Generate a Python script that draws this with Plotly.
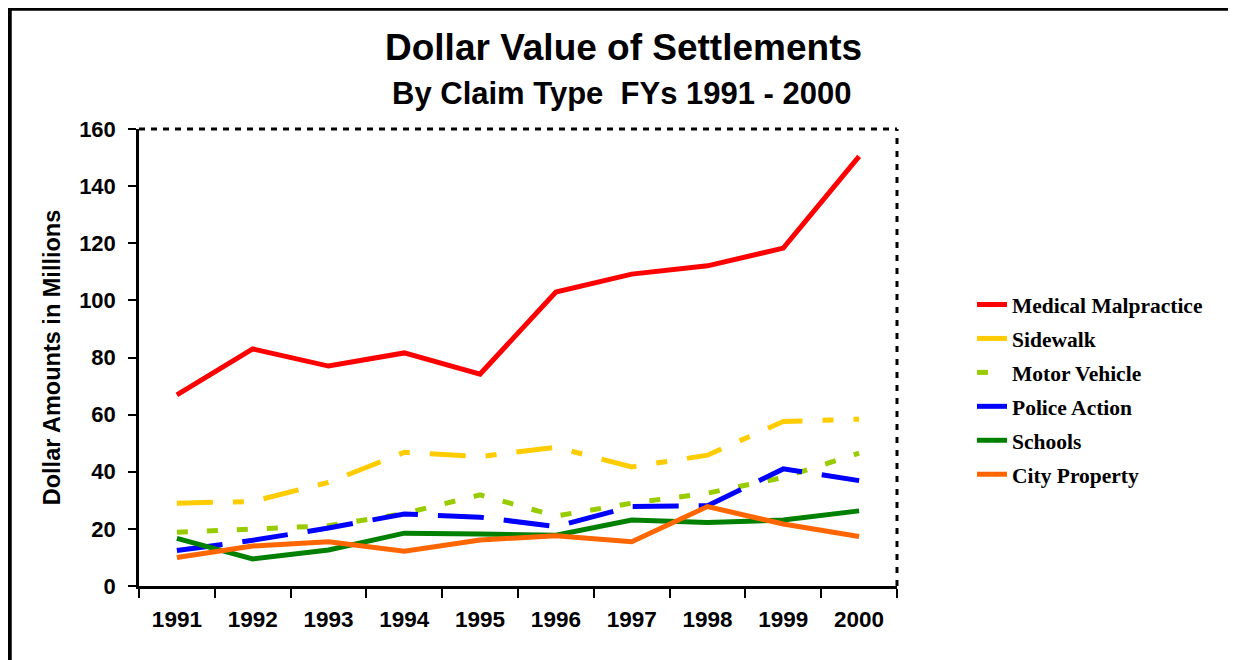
import plotly.graph_objects as go

years = ["1991", "1992", "1993", "1994", "1995", "1996", "1997", "1998", "1999", "2000"]
medical = [66.9, 83.0, 77.0, 81.6, 74.2, 102.9, 109.2, 112.1, 118.3, 150.4]
sidewalk = [29.0, 29.6, 36.3, 46.8, 45.3, 48.6, 41.7, 45.8, 57.6, 58.4]
motor = [18.8, 20.0, 21.1, 25.4, 31.9, 24.5, 29.0, 32.5, 38.0, 46.5]
police = [12.4, 16.0, 20.3, 25.2, 24.1, 20.8, 27.8, 28.1, 41.0, 36.9]
schools = [16.7, 9.5, 12.6, 18.5, 18.2, 17.8, 23.1, 22.2, 23.1, 26.3]
city = [10.0, 14.0, 15.5, 12.2, 16.1, 17.6, 15.5, 27.8, 21.7, 17.3]

series = [
    ("Medical Malpractice", medical, "#FF0000", "solid"),
    ("Sidewalk", sidewalk, "#FFCC00", "36px,20px,11px,20px"),
    ("Motor Vehicle", motor, "#99CC00", "11px,19px"),
    ("Police Action", police, "#0000FF", "46px,20px"),
    ("Schools", schools, "#008000", "solid"),
    ("City Property", city, "#FF6600", "solid"),
]

fig = go.Figure()
for i, (name, vals, color, dash) in enumerate(series):
    fig.add_trace(go.Scatter(
        x=years, y=vals, name=name, mode="lines",
        line=dict(color=color, width=5, dash=dash),
        legendgroup=f"g{i}",
    ))

# page body margin offsets the figure by 8px; design coords are window pixels
OFF = 8
W, H = 1236, 660
L, R, T, B = 139 - OFF, 897 - OFF, 129 - OFF, 586 - OFF
pw, ph = R - L, B - T

def px_x(X):
    return (X - OFF - L) / pw

def px_y(Y):
    return (B - (Y - OFF)) / ph

fig.update_layout(
    width=W, height=H,
    margin=dict(l=L, r=W - R, t=T, b=H - B, pad=0),
    paper_bgcolor="white", plot_bgcolor="white",
    showlegend=True,
    legend=dict(
        x=px_x(972), y=px_y(284), xanchor="left", yanchor="top",
        font=dict(family="Liberation Serif", size=21.5, color="black", weight="bold"),
        tracegroupgap=3, bgcolor="rgba(0,0,0,0)",
    ),
    xaxis=dict(
        type="category", range=[-0.5, 9.5], tickson="boundaries",
        ticks="outside", ticklen=9, tickwidth=2, tickcolor="black",
        showline=True, linecolor="black", linewidth=2.5,
        showgrid=False, zeroline=False,
        tickfont=dict(family="Liberation Sans", size=22.5, color="black", weight="bold"),
        ticklabelstandoff=11,
    ),
    yaxis=dict(
        range=[0, 160], dtick=20, ticks="outside", ticklen=8, tickwidth=2,
        tickcolor="black", showline=True, linecolor="black", linewidth=2.5,
        showgrid=False, zeroline=False,
        tickfont=dict(family="Liberation Sans", size=22, color="black", weight="bold"),
        ticklabelstandoff=8,
        title=dict(text="Dollar Amounts in Millions", standoff=12,
                   font=dict(family="Liberation Sans", size=23.5, color="black", weight="bold")),
    ),
    annotations=[
        dict(text="<b>Dollar Value of Settlements</b>", xref="paper", yref="paper",
             x=px_x(623), y=px_y(47), xanchor="center", yanchor="middle", showarrow=False,
             font=dict(family="Liberation Sans", size=37, color="black")),
        dict(text="<b>By Claim Type  FYs 1991 - 2000</b>", xref="paper", yref="paper",
             x=px_x(622), y=px_y(93), xanchor="center", yanchor="middle", showarrow=False,
             font=dict(family="Liberation Sans", size=31, color="black")),
    ],
    shapes=[
        dict(type="line", xref="paper", yref="paper", x0=0, x1=1, y0=1, y1=1,
             line=dict(color="black", width=3, dash="6px,6px")),
        dict(type="line", xref="paper", yref="paper", x0=1, x1=1, y0=0, y1=1,
             line=dict(color="black", width=3, dash="6px,7px")),
        dict(type="rect", xref="paper", yref="paper",
             x0=px_x(9.5), x1=px_x(1232.5), y0=px_y(690), y1=px_y(8.5),
             line=dict(color="black", width=4.5)),
    ],
)

fig.write_html("out.html")
